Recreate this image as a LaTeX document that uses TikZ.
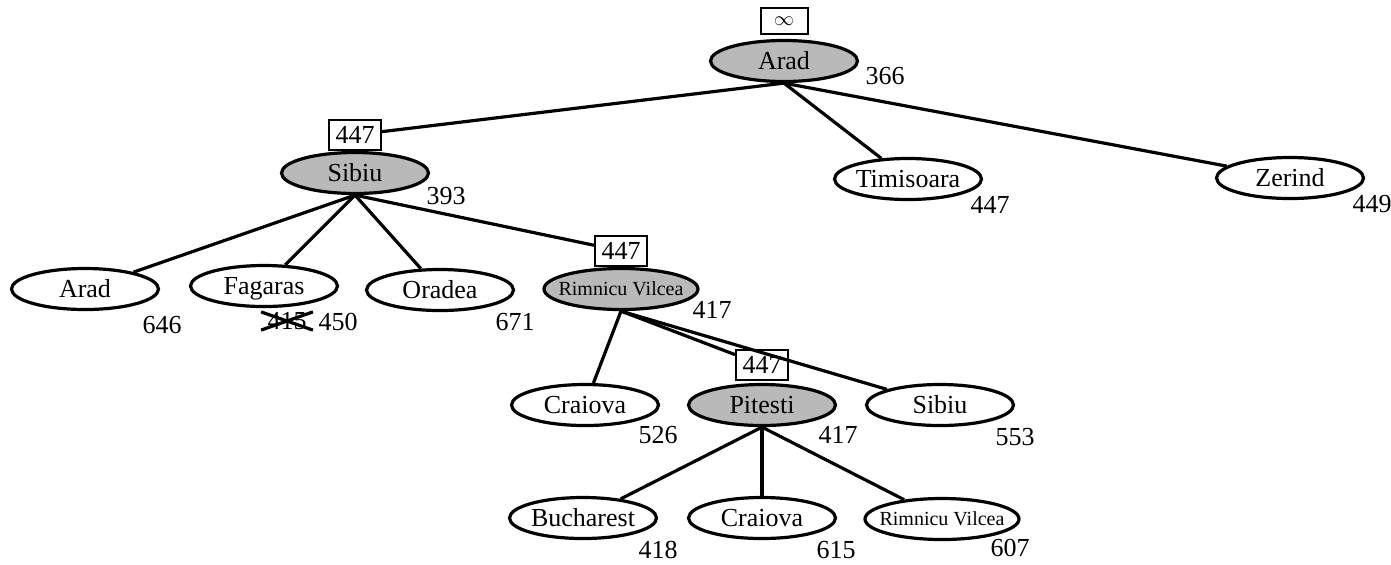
\documentclass[tikz,border=0pt]{standalone}
\usepackage{fontspec}
\setmainfont{Liberation Serif}
\usetikzlibrary{shapes.geometric,positioning}

\begin{document}
\begin{tikzpicture}[x=0.5pt, y=-0.5pt,
  every node/.style={font=\fontsize{13}{15}\selectfont},
  city/.style={ellipse, draw, line width=1.6pt, minimum width=73.5pt, minimum height=20.5pt, inner xsep=-4pt, inner ysep=0pt, text height=9pt, text depth=0.5pt},
  open/.style={city, fill=gray!55},
  small/.style={font=\fontsize{10}{12}\selectfont, text height=7pt},
  fbox/.style={rectangle, draw, line width=1pt, minimum width=26pt, minimum height=15pt, inner sep=1pt, fill=white},
  hval/.style={inner sep=0pt},
  edge/.style={line width=1.6pt}]
\useasboundingbox (0,0) rectangle (1391,564);

% level 0
\node (arad) [open] at (784,61) {Arad};
\node (f-arad) [fbox, minimum width=23.5pt, minimum height=13pt, above=2pt of arad] {\fontsize{10}{12}\selectfont$\infty$};
\node (h-arad) [hval] at (885,76) {366};

% level 1
\node (sibiu) [open] at (355,173) {Sibiu};
\node (f-sibiu) [fbox, above=0pt of sibiu] {447};
\node (h-sibiu) [hval] at (446,196) {393};
\node (timisoara) [city] at (908,179) {Timisoara};
\node (h-timisoara) [hval] at (990,205) {447};
\node (zerind) [city] at (1290,178) {Zerind};
\node (h-zerind) [hval] at (1372,204) {449};

% level 2
\node (arad2) [city] at (85,289) {Arad};
\node (h-arad2) [hval] at (162,325) {646};
\node (fagaras) [city] at (264,286) {Fagaras};
\node (h-fag-old) [hval] at (287,321) {415};
\draw [line width=1.6pt] ([xshift=-3pt]h-fag-old.north west) -- ([xshift=3pt]h-fag-old.south east);
\draw [line width=1.6pt] ([xshift=-3pt]h-fag-old.south west) -- ([xshift=3pt]h-fag-old.north east);
\node (h-fagaras) [hval] at (338,322) {450};
\node (oradea) [city] at (440,290) {Oradea};
\node (h-oradea) [hval] at (515,322) {671};
\node (rimnicu) [open, small] at (621,289) {Rimnicu Vilcea};
\node (f-rimnicu) [fbox, above=0pt of rimnicu] {447};
\node (h-rimnicu) [hval] at (712,310) {417};

% level 3
\node (craiova) [city] at (585,405) {Craiova};
\node (h-craiova) [hval] at (658,435) {526};
\node (pitesti) [open] at (762,405) {Pitesti};
\node (f-pitesti) [fbox, above=1pt of pitesti] {447};
\node (h-pitesti) [hval] at (838,435) {417};
\node (sibiu3) [city] at (940,405) {Sibiu};
\node (h-sibiu3) [hval] at (1015,437) {553};

% level 4
\node (bucharest) [city] at (583,518) {Bucharest};
\node (h-bucharest) [hval] at (658,550) {418};
\node (craiova4) [city] at (762,518) {Craiova};
\node (h-craiova4) [hval] at (836,550) {615};
\node (rimnicu4) [city, small] at (942,519) {Rimnicu Vilcea};
\node (h-rimnicu4) [hval] at (1010,548) {607};

\draw [edge] (arad.south) -- (f-sibiu);
\draw [edge] (arad.south) -- (timisoara);
\draw [edge] (arad.south) -- (zerind);
\draw [edge] (sibiu.south) -- (arad2);
\draw [edge] (sibiu.south) -- (fagaras);
\draw [edge] (sibiu.south) -- (oradea);
\draw [edge] (sibiu.south) -- (f-rimnicu);
\draw [edge] (rimnicu.south) -- (craiova);
\draw [edge] (rimnicu.south) -- (f-pitesti);
\draw [edge] (rimnicu.south) -- (sibiu3);
\draw [edge] (pitesti.south) -- (bucharest);
\draw [edge] (pitesti.south) -- (craiova4);
\draw [edge] (pitesti.south) -- (rimnicu4);
\end{tikzpicture}
\end{document}
